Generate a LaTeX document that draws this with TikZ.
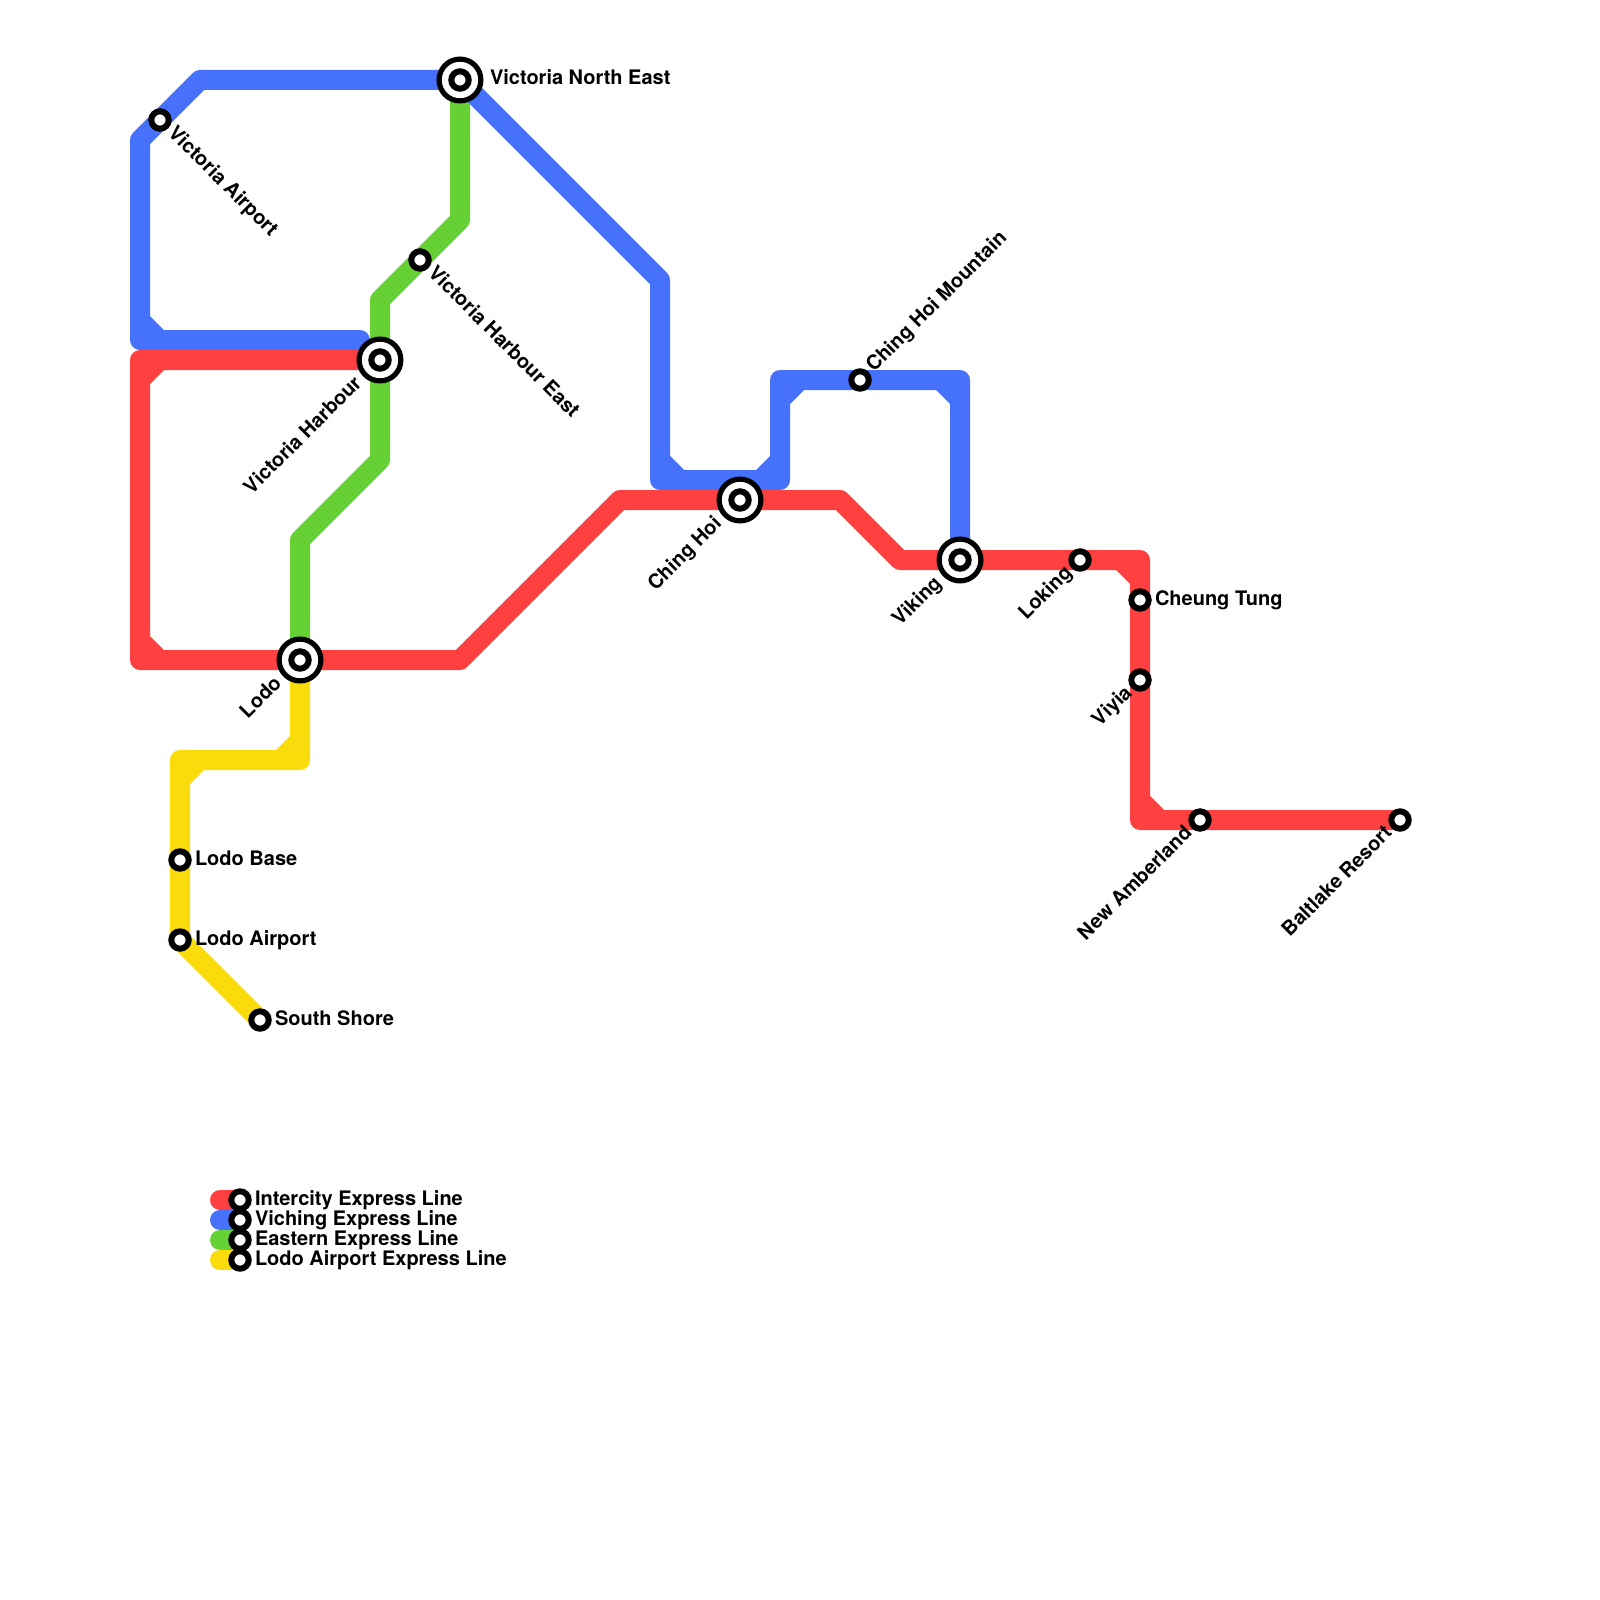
\documentclass[tikz,border=0pt]{standalone}
\usepackage{fontspec}
\setmainfont{TeX Gyre Heros}
\usetikzlibrary{backgrounds}
\definecolor{redline}{HTML}{FF4040}
\definecolor{blueline}{HTML}{4571FB}
\definecolor{greenline}{HTML}{65D135}
\definecolor{yellowline}{HTML}{FADB0B}
\tikzset{
  metro/.style={line width=20pt,line join=round,line cap=round},
  smallst/.style={circle,draw=black,fill=white,line width=6pt,inner sep=0pt,outer sep=0pt,minimum size=17.4pt},
  bigst/.style={circle,draw=black,fill=white,line width=5.2pt,inner sep=0pt,outer sep=0pt,minimum size=41.8pt},
  lbl/.style={inner sep=0pt,outer sep=0pt,text height=14pt,text depth=4pt,text=black,
    font=\fontsize{20}{24}\selectfont\bfseries},
  west/.style={lbl,anchor=west},
  downr/.style={lbl,anchor=west,rotate=-45},
  upr/.style={lbl,anchor=west,rotate=45},
  downl/.style={lbl,anchor=east,rotate=45}
}
% corner fill: colour, corner, x direction, y direction (towards the inside of the bend)
\newcommand{\cornerfill}[4]{\fill[#1] ([shift={(#3*10,#4*24)}]#2) -- ([shift={(#3*10,#4*10)}]#2) -- ([shift={(#3*24,#4*10)}]#2) -- cycle;}
\begin{document}
\begin{tikzpicture}[x=1pt,y=-1pt]
\useasboundingbox (0,0) rectangle (1600,1600);

% stations
\node[bigst] (vne) at (460,80) {};   \node[smallst] (vnec) at (460,80) {};
\node[bigst] (hbr) at (380,360) {};  \node[smallst] (hbrc) at (380,360) {};
\node[bigst] (chh) at (740,500) {};  \node[smallst] (chhc) at (740,500) {};
\node[bigst] (vik) at (960,560) {};  \node[smallst] (vikc) at (960,560) {};
\node[bigst] (lod) at (300,660) {};  \node[smallst] (lodc) at (300,660) {};
\node[smallst] (vap) at (160,120) {};
\node[smallst] (vhe) at (420,260) {};
\node[smallst] (chm) at (860,380) {};
\node[smallst] (lok) at (1080,560) {};
\node[smallst] (cht) at (1140,600) {};
\node[smallst] (viy) at (1140,680) {};
\node[smallst] (nam) at (1200,820) {};
\node[smallst] (bal) at (1400,820) {};
\node[smallst] (lba) at (180,860) {};
\node[smallst] (lap) at (180,940) {};
\node[smallst] (ssh) at (260,1020) {};
\node[smallst] (lg1) at (240,1200) {};
\node[smallst] (lg2) at (240,1220) {};
\node[smallst] (lg3) at (240,1240) {};
\node[smallst] (lg4) at (240,1260) {};

% bends and line ends
\coordinate (b1) at (360,340);
\coordinate (b2) at (140,340);
\coordinate (b3) at (140,140);
\coordinate (b4) at (200,80);
\coordinate (b5) at (660,280);
\coordinate (b6) at (660,480);
\coordinate (b7) at (780,480);
\coordinate (b8) at (780,380);
\coordinate (b9) at (960,380);
\coordinate (r1) at (140,360);
\coordinate (r2) at (140,660);
\coordinate (r3) at (460,660);
\coordinate (r4) at (620,500);
\coordinate (r5) at (840,500);
\coordinate (r6) at (900,560);
\coordinate (r7) at (1140,560);
\coordinate (r8) at (1140,820);
\coordinate (g1) at (460,220);
\coordinate (g2) at (380,300);
\coordinate (g3) at (380,460);
\coordinate (g4) at (300,540);
\coordinate (y1) at (300,760);
\coordinate (y2) at (180,760);
\coordinate (k1) at (220,1200);
\coordinate (k2) at (220,1220);
\coordinate (k3) at (220,1240);
\coordinate (k4) at (220,1260);

\begin{scope}[on background layer]
\fill[white] (0,0) rectangle (1600,1600);
% Lodo Airport Express
\draw[metro,yellowline] (lod.center) -- (y1) -- (y2) -- (lba.center) -- (lap.center) -- (ssh.center);
\cornerfill{yellowline}{y1}{-1}{-1}
\cornerfill{yellowline}{y2}{1}{1}
% Eastern Express
\draw[metro,greenline] (vne.center) -- (g1) -- (vhe.center) -- (g2) -- (hbr.center) -- (g3) -- (g4) -- (lod.center);
% Viching Express
\draw[metro,blueline] (b1) -- (b2) -- (b3) -- (vap.center) -- (b4) -- (vne.center) -- (b5) -- (b6) -- (b7) -- (b8) -- (chm.center) -- (b9) -- (vik.center);
\cornerfill{blueline}{b2}{1}{-1}
\cornerfill{blueline}{b6}{1}{-1}
\cornerfill{blueline}{b7}{-1}{-1}
\cornerfill{blueline}{b8}{1}{1}
\cornerfill{blueline}{b9}{-1}{1}
% Intercity Express
\draw[metro,redline] (hbr.center) -- (r1) -- (r2) -- (lod.center) -- (r3) -- (r4) -- (chh.center) -- (r5) -- (r6) -- (vik.center) -- (lok.center) -- (r7) -- (cht.center) -- (viy.center) -- (r8) -- (nam.center) -- (bal.center);
\cornerfill{redline}{r1}{1}{1}
\cornerfill{redline}{r2}{1}{-1}
\cornerfill{redline}{r7}{-1}{1}
\cornerfill{redline}{r8}{1}{-1}
% legend
\draw[metro,redline] (k1) -- (lg1.center);
\draw[metro,blueline] (k2) -- (lg2.center);
\draw[metro,greenline] (k3) -- (lg3.center);
\draw[metro,yellowline] (k4) -- (lg4.center);
\end{scope}

% labels
\node[west] (tvne) at ([shift={(30,-0.5)}]vne.center) {Victoria North East};
\node[downr] (tvap) at ([shift={(10.6,10.6)}]vap.center) {Victoria Airport};
\node[downr] (tvhe) at ([shift={(10.6,10.6)}]vhe.center) {Victoria Harbour East};
\node[upr] (tchm) at ([shift={(10.6,-10.6)}]chm.center) {Ching Hoi Mountain};
\node[downl] (thbr) at ([shift={(-21,21)}]hbr.center) {Victoria Harbour};
\node[downl] (tchh) at ([shift={(-21,21)}]chh.center) {Ching Hoi};
\node[downl] (tvik) at ([shift={(-21,21)}]vik.center) {Viking};
\node[downl] (tlod) at ([shift={(-21,21)}]lod.center) {Lodo};
\node[downl] (tlok) at ([shift={(-10.6,10.6)}]lok.center) {Loking};
\node[downl] (tviy) at ([shift={(-10.6,10.6)}]viy.center) {Viyia};
\node[downl] (tnam) at ([shift={(-10.6,10.6)}]nam.center) {New Amberland};
\node[downl] (tbal) at ([shift={(-10.6,10.6)}]bal.center) {Baltlake Resort};
\node[west] (tcht) at ([shift={(15,0)}]cht.center) {Cheung Tung};
\node[west] (tlba) at ([shift={(15,0)}]lba.center) {Lodo Base};
\node[west] (tlap) at ([shift={(15,0)}]lap.center) {Lodo Airport};
\node[west] (tssh) at ([shift={(15,0)}]ssh.center) {South Shore};
\node[west] (tlg1) at ([shift={(15,0)}]lg1.center) {Intercity Express Line};
\node[west] (tlg2) at ([shift={(15,0)}]lg2.center) {Viching Express Line};
\node[west] (tlg3) at ([shift={(15,0)}]lg3.center) {Eastern Express Line};
\node[west] (tlg4) at ([shift={(15,0)}]lg4.center) {Lodo Airport Express Line};
\end{tikzpicture}
\end{document}
